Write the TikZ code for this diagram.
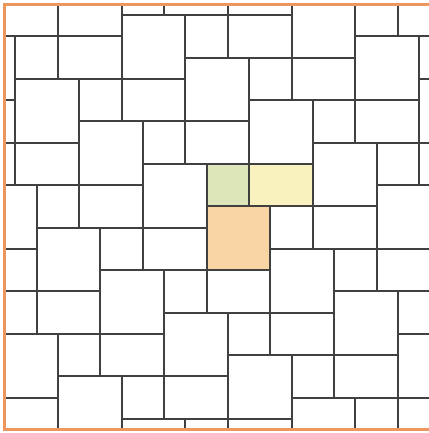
\documentclass[tikz,border=0pt]{standalone}
\usepackage{xcolor}
\usepackage{tikz}

\definecolor{tilegreen}{RGB}{221,229,186}
\definecolor{tileyellow}{RGB}{249,241,190}
\definecolor{tileorange}{RGB}{249,212,164}
\definecolor{frameorange}{RGB}{238,150,96}

\begin{document}
\begin{tikzpicture}[x=0.5cm, y=-0.5cm,
  tile/.style={draw=black!75, line width=1.3pt},
  frame/.style={draw=frameorange, line width=1.6pt}]
\useasboundingbox (-0.72,-0.71) rectangle (19.44,19.66);
% the three tiles of one period
\fill[tileorange] (9,9) rectangle (12,12);
\fill[tilegreen] (9,7) rectangle (11,9);
\fill[tileyellow] (11,7) rectangle (14,9);
\begin{scope}
\clip (-0.5,-0.5) rectangle (19.5,19.5);
\foreach \m in {-6,...,6}
  \foreach \n in {-4,...,4}
    \draw[tile, shift={({3*\m-2*\n},{2*\m+5*\n})}]
      (9,9) rectangle (12,12) (9,7) rectangle (11,9) (11,7) rectangle (14,9);
\end{scope}
\draw[frame] (-0.5,-0.5) rectangle (19.5,19.5);
\end{tikzpicture}
\end{document}
